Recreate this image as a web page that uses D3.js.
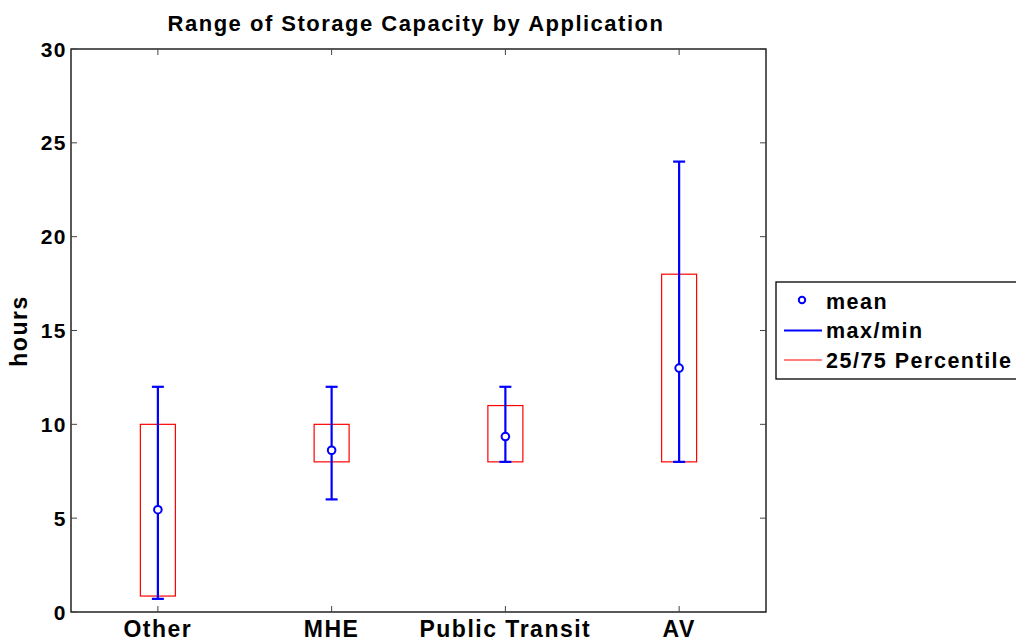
<!DOCTYPE html>
<html>
<head>
<meta charset="utf-8">
<script src="https://cdn.jsdelivr.net/npm/d3@7"></script>
<style>
  body { margin: 0; background: #fff; }
  svg { font-family: Arial, "Liberation Sans", sans-serif; }
  text { font-weight: bold; letter-spacing: 1.5px; }
</style>
</head>
<body>
<svg width="1016" height="642"></svg>
<script>
// data
const categories = ['Other', 'MHE', 'Public Transit', 'AV'];
const maxVals = [12, 12, 12, 24];
const minVals = [0.7, 6, 8, 8];
const p25 = [0.85, 8, 8, 8];
const p75 = [10, 10, 11, 18];
const means = [5.45, 8.62, 9.35, 13];
const yTicks = [0, 5, 10, 15, 20, 25, 30];

const svg = d3.select('svg');
const plotL = 71, plotR = 766, plotT = 49, plotB = 612;

const x = d3.scaleLinear().domain([0.5, 4.5]).range([plotL, plotR]);
const y = d3.scaleLinear().domain([0, 30]).range([plotB, plotT]);

const rows = categories.map((c, i) => ({
  cat: c, i: i + 1, max: maxVals[i], min: minVals[i], lo: p25[i], hi: p75[i], mean: means[i]
}));

// axes box
svg.append('rect')
  .attr('x', plotL).attr('y', plotT)
  .attr('width', plotR - plotL).attr('height', plotB - plotT)
  .attr('fill', 'none').attr('stroke', '#000').attr('stroke-width', 1.3);

// ticks (inward, on all sides)
const tickCol = '#444';
let yt = svg.append('g');
yTicks.forEach(t => {
  yt.append('line').attr('x1', plotL).attr('x2', plotL + 6).attr('y1', y(t)).attr('y2', y(t)).attr('stroke', tickCol);
  yt.append('line').attr('x1', plotR).attr('x2', plotR - 6).attr('y1', y(t)).attr('y2', y(t)).attr('stroke', tickCol);
  yt.append('text').attr('x', plotL - 4).attr('y', y(t)).attr('dy', '0.36em')
    .attr('text-anchor', 'end').attr('font-size', 21).text(t);
});
let xt = svg.append('g');
rows.forEach(d => {
  xt.append('line').attr('x1', x(d.i)).attr('x2', x(d.i)).attr('y1', plotB).attr('y2', plotB - 6).attr('stroke', tickCol);
  xt.append('line').attr('x1', x(d.i)).attr('x2', x(d.i)).attr('y1', plotT).attr('y2', plotT + 6).attr('stroke', tickCol);
  xt.append('text').attr('x', x(d.i)).attr('y', plotB + 25)
    .attr('text-anchor', 'middle').attr('font-size', 23).text(d.cat);
});

// percentile boxes
svg.selectAll('rect.box').data(rows).enter().append('rect')
  .attr('class', 'box')
  .attr('x', d => x(d.i) - 17.5)
  .attr('width', 35)
  .attr('y', d => y(d.hi))
  .attr('height', d => y(d.lo) - y(d.hi))
  .attr('fill', 'none').attr('stroke', '#f00').attr('stroke-width', 1.2);

// max/min error bars
let bars = svg.selectAll('g.err').data(rows).enter().append('g').attr('class', 'err')
  .attr('stroke', '#00f').attr('stroke-width', 2.2);
bars.append('line').attr('x1', d => x(d.i)).attr('x2', d => x(d.i))
  .attr('y1', d => y(d.max)).attr('y2', d => y(d.min));
bars.append('line').attr('x1', d => x(d.i) - 6).attr('x2', d => x(d.i) + 6)
  .attr('y1', d => y(d.max)).attr('y2', d => y(d.max));
bars.append('line').attr('x1', d => x(d.i) - 6).attr('x2', d => x(d.i) + 6)
  .attr('y1', d => y(d.min)).attr('y2', d => y(d.min));

// means
svg.selectAll('circle.mean').data(rows).enter().append('circle')
  .attr('class', 'mean')
  .attr('cx', d => x(d.i)).attr('cy', d => y(d.mean)).attr('r', 3.8)
  .attr('fill', '#fff').attr('stroke', '#00f').attr('stroke-width', 2);

// title and y label
svg.append('text').attr('x', 416).attr('y', 31)
  .attr('text-anchor', 'middle').attr('font-size', 22)
  .text('Range of Storage Capacity by Application');
svg.append('text').attr('transform', `translate(27,331) rotate(-90)`)
  .attr('text-anchor', 'middle').attr('font-size', 23).text('hours');

// legend
let lg = svg.append('g');
lg.append('rect').attr('x', 776).attr('y', 282).attr('width', 250).attr('height', 97)
  .attr('fill', '#fff').attr('stroke', '#000').attr('stroke-width', 1.3);
lg.append('circle').attr('cx', 802).attr('cy', 300).attr('r', 3.2)
  .attr('fill', '#fff').attr('stroke', '#00f').attr('stroke-width', 2);
lg.append('line').attr('x1', 784).attr('x2', 822).attr('y1', 330.5).attr('y2', 330.5)
  .attr('stroke', '#00f').attr('stroke-width', 2);
lg.append('line').attr('x1', 784).attr('x2', 822).attr('y1', 360).attr('y2', 360)
  .attr('stroke', '#f00').attr('stroke-width', 1.2);
const legendLabels = ['mean', 'max/min', '25/75 Percentile'];
legendLabels.forEach((t, k) => {
  lg.append('text').attr('x', 826).attr('y', 301 + k * 29.5).attr('dy', '0.36em')
    .attr('font-size', 21.5).text(t);
});
</script>
</body>
</html>
